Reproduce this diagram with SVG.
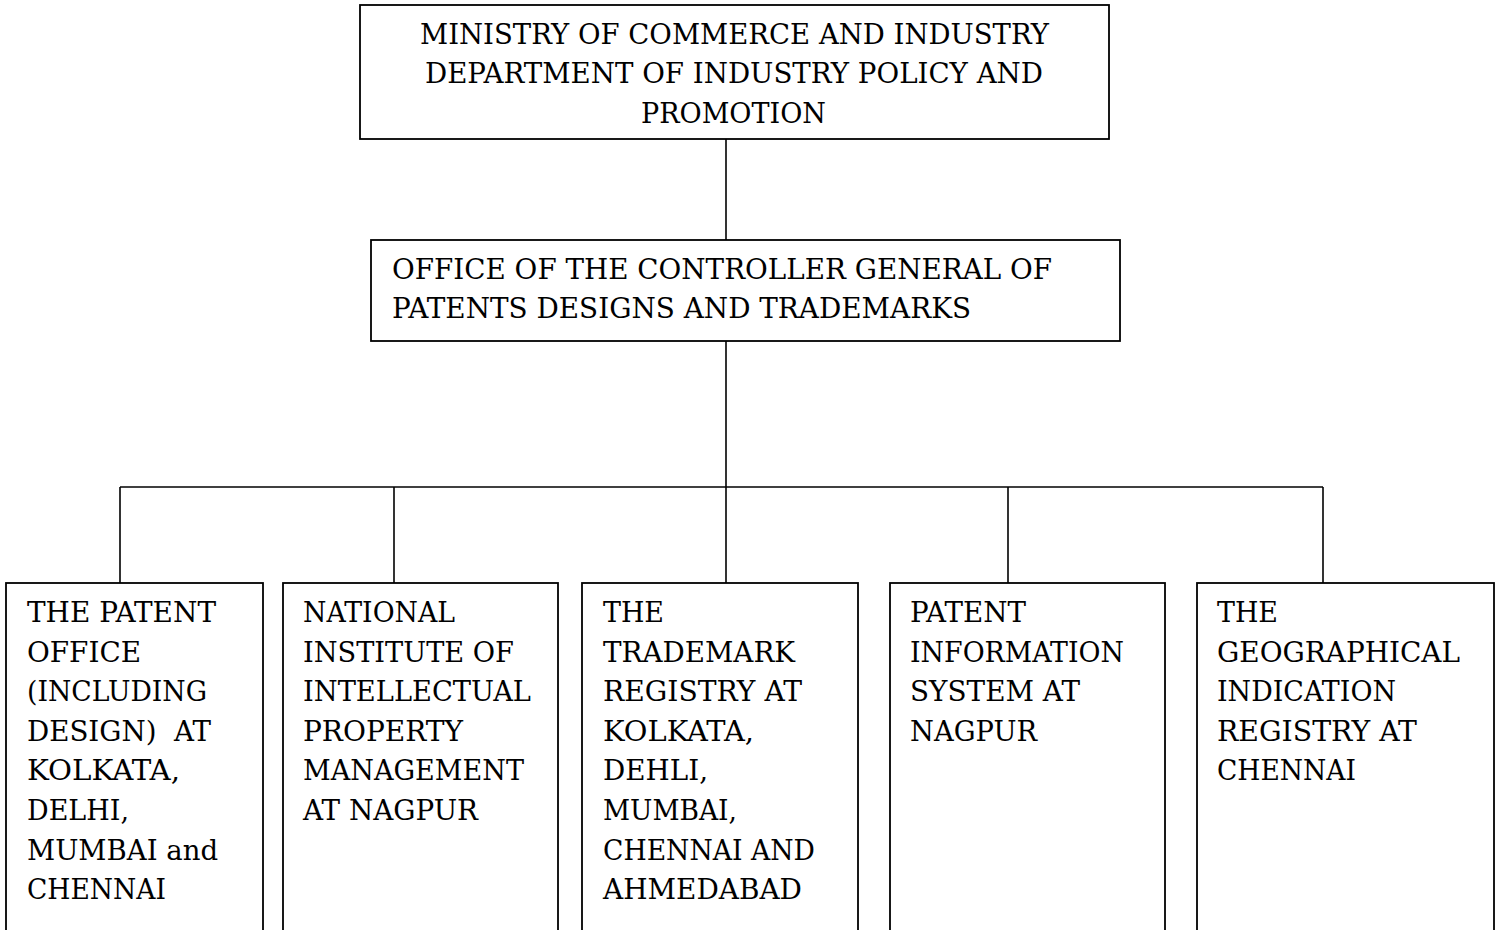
<svg xmlns="http://www.w3.org/2000/svg" width="1499" height="930" viewBox="0 0 1499 930">
  <style>
    .box { fill: #ffffff; stroke: #000000; stroke-width: 1.8; }
    .wire { fill: none; stroke: #000000; stroke-width: 1.6; }
    text { font-family: "DejaVu Serif", "Liberation Serif", serif; font-size: 27px; fill: #000000; }
  </style>
  <rect width="1499" height="930" fill="#ffffff"/>

  <!-- connectors -->
  <g id="connectors">
    <line class="wire" x1="726" y1="139" x2="726" y2="240"/>
    <line class="wire" x1="726" y1="341" x2="726" y2="583"/>
    <line class="wire" x1="120" y1="487" x2="1323" y2="487"/>
    <line class="wire" x1="120" y1="487" x2="120" y2="583"/>
    <line class="wire" x1="394" y1="487" x2="394" y2="583"/>
    <line class="wire" x1="1008" y1="487" x2="1008" y2="583"/>
    <line class="wire" x1="1323" y1="487" x2="1323" y2="583"/>
  </g>

  <!-- ministry -->
  <g id="ministry">
    <rect class="box" x="360" y="5" width="749" height="134"/>
    <text x="420" y="44" textLength="629" lengthAdjust="spacingAndGlyphs">MINISTRY OF COMMERCE AND INDUSTRY</text>
    <text x="425" y="83" textLength="618" lengthAdjust="spacingAndGlyphs">DEPARTMENT OF INDUSTRY POLICY AND</text>
    <text x="641" y="123" textLength="185" lengthAdjust="spacingAndGlyphs">PROMOTION</text>
  </g>

  <!-- controller general -->
  <g id="controller-general">
    <rect class="box" x="371" y="240" width="749" height="101"/>
    <text x="392" y="279" textLength="660" lengthAdjust="spacingAndGlyphs">OFFICE OF THE CONTROLLER GENERAL OF</text>
    <text x="392" y="318" textLength="579" lengthAdjust="spacingAndGlyphs">PATENTS DESIGNS AND TRADEMARKS</text>
  </g>

  <!-- patent office -->
  <g id="patent-office">
    <rect class="box" x="6" y="583" width="257" height="360"/>
    <text x="27" y="622" textLength="189" lengthAdjust="spacingAndGlyphs">THE PATENT</text>
    <text x="27" y="661.6" textLength="114" lengthAdjust="spacingAndGlyphs">OFFICE</text>
    <text x="27" y="701.2" textLength="180" lengthAdjust="spacingAndGlyphs">(INCLUDING</text>
    <text x="27" y="740.8" textLength="184" lengthAdjust="spacingAndGlyphs" xml:space="preserve">DESIGN)  AT</text>
    <text x="27" y="780.4" textLength="153" lengthAdjust="spacingAndGlyphs">KOLKATA,</text>
    <text x="27" y="820" textLength="102" lengthAdjust="spacingAndGlyphs">DELHI,</text>
    <text x="27" y="859.6" textLength="191" lengthAdjust="spacingAndGlyphs">MUMBAI and</text>
    <text x="27" y="899.2" textLength="139" lengthAdjust="spacingAndGlyphs">CHENNAI</text>
  </g>

  <!-- national institute -->
  <g id="niipm">
    <rect class="box" x="283" y="583" width="275" height="360"/>
    <text x="303" y="622" textLength="152" lengthAdjust="spacingAndGlyphs">NATIONAL</text>
    <text x="303" y="661.6" textLength="211" lengthAdjust="spacingAndGlyphs">INSTITUTE OF</text>
    <text x="303" y="701.2" textLength="228" lengthAdjust="spacingAndGlyphs">INTELLECTUAL</text>
    <text x="303" y="740.8" textLength="160" lengthAdjust="spacingAndGlyphs">PROPERTY</text>
    <text x="303" y="780.4" textLength="221" lengthAdjust="spacingAndGlyphs">MANAGEMENT</text>
    <text x="303" y="820" textLength="175" lengthAdjust="spacingAndGlyphs">AT NAGPUR</text>
  </g>

  <!-- trademark registry -->
  <g id="trademark-registry">
    <rect class="box" x="582" y="583" width="276" height="360"/>
    <text x="603" y="622" textLength="61" lengthAdjust="spacingAndGlyphs">THE</text>
    <text x="603" y="661.6" textLength="192" lengthAdjust="spacingAndGlyphs">TRADEMARK</text>
    <text x="603" y="701.2" textLength="199" lengthAdjust="spacingAndGlyphs">REGISTRY AT</text>
    <text x="603" y="740.8" textLength="151" lengthAdjust="spacingAndGlyphs">KOLKATA,</text>
    <text x="603" y="780.4" textLength="105" lengthAdjust="spacingAndGlyphs">DEHLI,</text>
    <text x="603" y="820" textLength="134" lengthAdjust="spacingAndGlyphs">MUMBAI,</text>
    <text x="603" y="859.6" textLength="212" lengthAdjust="spacingAndGlyphs">CHENNAI AND</text>
    <text x="603" y="899.2" textLength="199" lengthAdjust="spacingAndGlyphs">AHMEDABAD</text>
  </g>

  <!-- patent information system -->
  <g id="patent-information-system">
    <rect class="box" x="890" y="583" width="275" height="360"/>
    <text x="910" y="622" textLength="116" lengthAdjust="spacingAndGlyphs">PATENT</text>
    <text x="910" y="661.6" textLength="214" lengthAdjust="spacingAndGlyphs">INFORMATION</text>
    <text x="910" y="701.2" textLength="170" lengthAdjust="spacingAndGlyphs">SYSTEM AT</text>
    <text x="910" y="740.8" textLength="127" lengthAdjust="spacingAndGlyphs">NAGPUR</text>
  </g>

  <!-- geographical indication registry -->
  <g id="gi-registry">
    <rect class="box" x="1197" y="583" width="297" height="360"/>
    <text x="1217" y="622" textLength="61" lengthAdjust="spacingAndGlyphs">THE</text>
    <text x="1217" y="661.6" textLength="243" lengthAdjust="spacingAndGlyphs">GEOGRAPHICAL</text>
    <text x="1217" y="701.2" textLength="179" lengthAdjust="spacingAndGlyphs">INDICATION</text>
    <text x="1217" y="740.8" textLength="200" lengthAdjust="spacingAndGlyphs">REGISTRY AT</text>
    <text x="1217" y="780.4" textLength="139" lengthAdjust="spacingAndGlyphs">CHENNAI</text>
  </g>
</svg>
